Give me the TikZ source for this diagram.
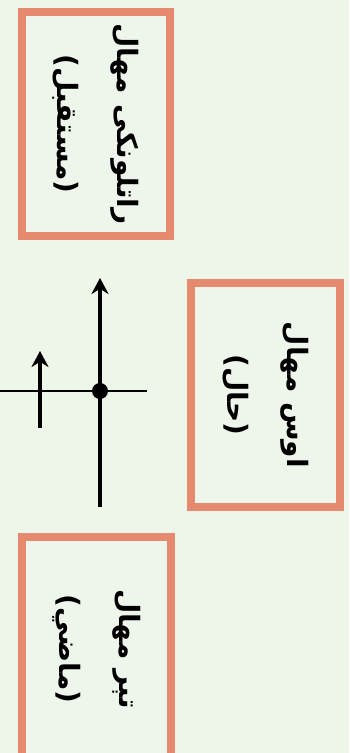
\documentclass[tikz,border=0pt]{standalone}
\usepackage{fontspec}
\usetikzlibrary{arrows.meta}
\newfontfamily\arabicfont[Script=Arabic]{DejaVu Sans}
\TeXXeTstate=1
\definecolor{bgc}{HTML}{EEF5E9}
\definecolor{brd}{HTML}{E5896F}
\definecolor{fillc}{HTML}{EEF6EB}
\begin{document}
\begin{tikzpicture}[x=1pt,y=-1pt,
  tensebox/.style={draw=brd, line width=8pt, fill=fillc, rotate=-90,
    minimum width=224pt, minimum height=148pt, inner sep=0pt,
    align=center, font=\arabicfont\bfseries\fontsize{28}{60}\selectfont},
  axisline/.style={line width=2.2pt},
  vecline/.style={line width=3.5pt, -{Stealth[length=16pt,width=17pt]}}]
\fill[bgc] (0,0) rectangle (349,753);
\useasboundingbox (0,0) rectangle (349,753);
\node[tensebox] (future) at (96,124) {\beginR راتلونکی مهال\endR\\\beginR (مستقبل)\endR};
\node[tensebox, minimum height=149pt] (present) at (265.5,395) {\beginR اوس مهال\endR\\\beginR (حال)\endR};
\node[tensebox, minimum height=149pt] (past) at (96.5,649) {\beginR تېر مهال\endR\\\beginR (ماضي)\endR};
\coordinate (hL) at (0,391);
\coordinate (hR) at (147,391);
\coordinate (vB) at (100,507);
\coordinate (vT) at (100,278);
\coordinate (sB) at (40,428);
\coordinate (sT) at (40,351);
\draw[axisline] (hL) -- (hR);
\draw[vecline] (vB) -- (vT);
\draw[vecline] (sB) -- (sT);
\node[circle, fill=black, minimum size=16pt, inner sep=0pt] (origin) at (100,391) {};
\end{tikzpicture}
\end{document}
